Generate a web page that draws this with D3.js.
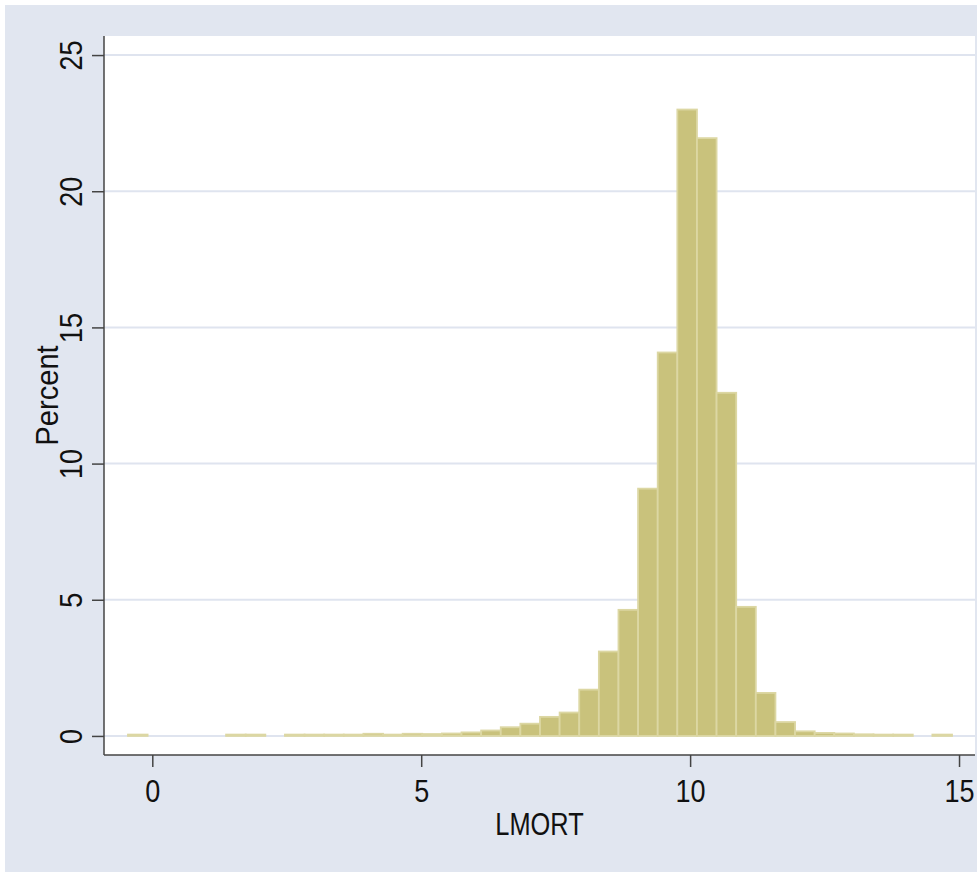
<html>
<script src='https://cdnjs.cloudflare.com/ajax/libs/d3/7.8.5/d3.min.js'></script>
<style>
body {margin:0; background:white;}
text {font-family: "Liberation Sans", Arial, sans-serif; fill: #111;}
</style>
<body>
<svg width=977 height=872></svg>
<script>

// histogram of LMORT, 42 bins
var binStart = -0.452;
var binWidth = 0.3648;
var percent = [0.05, 0, 0, 0, 0, 0.05, 0.05, 0, 0.05, 0.05,
               0.05, 0.05, 0.08, 0.05, 0.08, 0.07, 0.09, 0.13, 0.2, 0.32,
               0.45, 0.7, 0.86, 1.7, 3.1, 4.63, 9.08, 14.08, 23.0, 21.95,
               12.6, 4.74, 1.58, 0.51, 0.17, 0.11, 0.09, 0.06, 0.05, 0.05,
               0, 0.05];
var xTicks = [0, 5, 10, 15];
var yTicks = [0, 5, 10, 15, 20, 25];
var xTitle = "LMORT";
var yTitle = "Percent";

var svg = d3.select("svg");

// outer graph region
svg.append("rect").attr("x", 5).attr("y", 5).attr("width", 972).attr("height", 867)
  .attr("fill", "#e1e6f0");

var plotL = 104, plotR = 975, plotT = 36, plotB = 755;
svg.append("rect").attr("x", plotL).attr("y", plotT)
  .attr("width", plotR - plotL).attr("height", plotB - plotT).attr("fill", "white");

var xscale = d3.scaleLinear().domain([-0.898, 15.297]).range([plotL, plotR]);
var yscale = d3.scaleLinear().domain([-0.70, 25.70]).range([plotB, plotT]);

// grid lines
svg.append("g").selectAll("line").data(yTicks).enter().append("line")
  .attr("x1", plotL).attr("x2", plotR)
  .attr("y1", function(d){return yscale(d);}).attr("y2", function(d){return yscale(d);})
  .attr("stroke", "#dfe4ef").attr("stroke-width", 2);

// bars
var bins = percent.map(function(v, i){ return {x0: binStart + i*binWidth, x1: binStart + (i+1)*binWidth, v: v}; })
  .filter(function(d){ return d.v > 0; });

svg.append("g").selectAll("rect").data(bins).enter().append("rect")
  .attr("x", function(d){return xscale(d.x0);})
  .attr("width", function(d){return xscale(d.x1) - xscale(d.x0);})
  .attr("y", function(d){return yscale(d.v);})
  .attr("height", function(d){return yscale(0) - yscale(d.v);})
  .attr("fill", "#c9c27c")
  .attr("stroke", "#dcd7a3")
  .attr("stroke-width", 1.8);

// axes
var x_axis = d3.axisBottom(xscale).tickValues(xTicks).tickSize(12).tickFormat(d3.format("d"));
var gx = svg.append("g").attr("transform", "translate(0," + plotB + ")").call(x_axis);
gx.select(".domain").attr("d", "M" + plotL + ",0H" + plotR).attr("stroke", "#444").attr("stroke-width", 1.5);
gx.selectAll(".tick line").attr("stroke", "#444").attr("stroke-width", 1.5);
gx.selectAll(".tick text").attr("font-size", 27).attr("fill", "#111")
  .attr("font-family", "Liberation Sans, Arial, sans-serif")
  .attr("y", null).attr("dy", null)
  .attr("transform", "translate(0,47) scale(1,1.13)");

var y_axis = d3.axisLeft(yscale).tickValues(yTicks).tickSize(12).tickFormat(d3.format("d"));
var gy = svg.append("g").attr("transform", "translate(" + plotL + ",0)").call(y_axis);
gy.select(".domain").attr("d", "M0," + plotT + "V" + plotB).attr("stroke", "#444").attr("stroke-width", 1.5);
gy.selectAll(".tick line").attr("stroke", "#444").attr("stroke-width", 1.5);
gy.selectAll(".tick text")
  .attr("font-size", 27).attr("fill", "#111")
  .attr("font-family", "Liberation Sans, Arial, sans-serif")
  .attr("x", null).attr("dy", null)
  .attr("text-anchor", "middle")
  .attr("transform", "translate(-22,0) rotate(-90) scale(1,1.13)");

// titles
svg.append("text").attr("transform", "translate(" + ((plotL + plotR) / 2) + ",835) scale(0.94,1.17)")
  .attr("text-anchor", "middle").attr("font-size", 27).text(xTitle);

svg.append("text").attr("transform", "translate(58," + ((plotT + plotB) / 2) + ") rotate(-90) scale(1.08,1.17)")
  .attr("text-anchor", "middle").attr("font-size", 27).text(yTitle);

</script>
</body>
</html>
